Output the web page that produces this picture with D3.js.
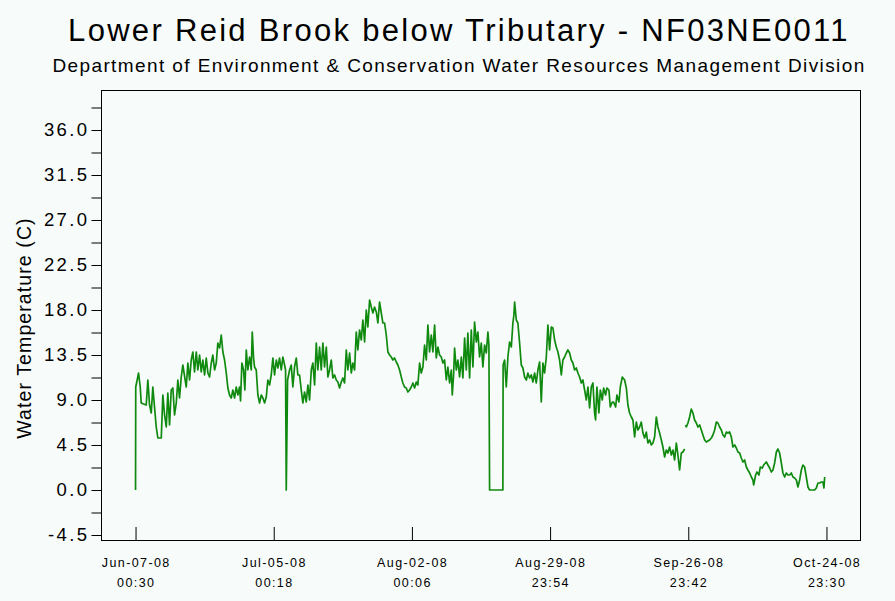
<!DOCTYPE html>
<html>
<head>
<meta charset="utf-8">
<script src="https://cdn.jsdelivr.net/npm/d3@7"></script>
<style>
  html, body { margin: 0; padding: 0; background: #f7fbf9; }
  svg { display: block; }
  text { font-family: "Liberation Sans", Arial, sans-serif; fill: #000; }
</style>
</head>
<body>
<svg id="chart" width="895" height="601"></svg>
<script>
// Station record: first and last logged readings
const firstReading = Date.UTC(2008, 5, 7, 0, 30);
const lastReading = Date.UTC(2008, 9, 24, 23, 30);

// Days elapsed since the first reading, and water temperature (C) at that time.
// A null temperature marks a break in the record.
const dayOffsets = [
  0, 0.04, 0.61, 0.95, 1.15, 1.62, 2.17, 2.49, 2.84, 3.18, 3.50, 4.19, 4.52, 5.21, 5.53, 5.88,
  6.22, 6.54, 6.89, 7.23, 7.56, 7.90, 8.25, 8.57, 8.91, 9.26, 9.58, 10.27, 10.60, 10.94, 11.28,
  11.61, 11.95, 12.30, 12.62, 12.97, 13.31, 13.63, 13.98, 14.32, 14.65, 14.99, 15.34, 15.66,
  16.01, 16.35, 16.67, 17.02, 17.36, 17.69, 18.03, 18.38, 18.70, 19.04, 19.39, 19.71, 20.06,
  20.40, 20.73, 21.07, 21.27, 21.54, 21.88, 22.14, 22.43, 22.75, 23.10, 23.44, 23.64, 23.91,
  24.11, 24.45, 24.78, 25.12, 25.47, 25.79, 26.14, 26.48, 26.80, 27.15, 27.49, 27.82, 28.16,
  28.51, 28.83, 29.17, 29.52, 29.84, 30.19, 30.39, 30.53, 30.80, 31.20, 31.54, 31.87, 32.21,
  32.56, 32.88, 33.23, 33.57, 33.89, 34.24, 34.58, 34.91, 35.25, 35.60, 35.92, 36.27, 36.61,
  36.93, 37.28, 37.62, 37.95, 38.29, 38.64, 38.96, 39.30, 39.65, 39.97, 40.32, 40.66, 40.99,
  41.33, 41.67, 42.00, 42.34, 42.69, 43.01, 43.36, 43.70, 44.02, 44.37, 44.71, 45.04, 45.38,
  45.73, 46.05, 46.40, 46.74, 47.06, 47.41, 47.75, 48.08, 48.42, 48.77, 49.09, 49.43, 49.78,
  50.10, 50.45, 50.79, 51.12, 51.46, 51.80, 52.13, 52.47, 52.82, 53.14, 53.49, 53.83, 54.15,
  54.50, 54.84, 55.17, 55.51, 55.86, 56.18, 56.53, 56.87, 57.19, 57.54, 57.88, 58.21, 58.55,
  58.90, 59.22, 59.56, 59.91, 60.23, 60.58, 60.92, 61.25, 61.59, 61.93, 62.26, 62.60, 62.95,
  63.27, 63.62, 63.96, 64.16, 64.43, 64.63, 64.97, 65.30, 65.64, 65.99, 66.31, 66.66, 67.00,
  67.32, 67.67, 68.01, 68.34, 68.68, 69.03, 69.35, 69.69, 70.04, 70.36, 70.71, 71.05, 71.38,
  71.58, 71.72, 74.41, 74.46, 74.76, 75.10, 75.43, 75.77, 76.12, 76.44, 76.64, 76.79, 77.13,
  77.45, 77.80, 78.14, 78.47, 78.81, 79.16, 79.48, 79.82, 80.17, 80.49, 80.84, 81.18, 81.51,
  81.85, 82.19, 82.52, 82.86, 83.21, 83.53, 83.88, 84.22, 84.55, 84.89, 85.23, 85.56, 85.90,
  86.25, 86.57, 86.92, 87.26, 87.58, 87.93, 88.27, 88.60, 88.94, 89.29, 89.61, 89.95, 90.30,
  90.62, 90.97, 91.31, 91.64, 91.98, 92.32, 92.65, 92.99, 93.19, 93.46, 93.86, 94.15, 94.55,
  94.82, 95.22, 95.49, 95.89, 96.17, 96.58, 96.84, 97.25, 97.51, 97.92, 98.20, 98.60, 99.07,
  99.42, 99.74, 100.08, 100.43, 100.75, 101.10, 101.44, 101.77, 102.11, 102.45, 102.78, 103.12,
  103.47, 103.79, 104.14, 104.48, 104.81, 105.15, 105.49, 105.82, 106.16, 106.51, 106.83,
  107.18, 107.52, 107.84, 108.19, 108.53, 108.86, 109.20, 109.55, 109.87, 110.21, 110.56,
  110.88, 111.23, 111.33, 111.43, 111.57, 111.90, 112.24, 112.58, 112.91, 113.25, 113.60,
  113.92, 114.27, 114.61, 114.94, 115.28, 115.62, 115.95, 116.29, 116.64, 116.96, 117.31,
  117.65, 117.97, 118.32, 118.66, 118.99, 119.33, 119.68, 120.00, 120.34, 120.69, 121.01,
  121.36, 121.70, 122.03, 122.37, 122.71, 123.04, 123.38, 123.73, 124.05, 124.40, 124.74,
  125.06, 125.21, 125.61, 125.88, 126.28, 126.56, 126.97, 127.23, 127.78, 128.10, 128.45,
  128.79, 129.12, 129.46, 129.81, 130.13, 130.47, 130.82, 131.14, 131.49, 131.83, 132.16,
  132.50, 132.84, 133.17, 133.51, 133.86, 134.18, 134.53, 134.87, 135.19, 135.54, 135.88,
  136.21, 136.55, 136.90, 137.57, 137.91, 138.23, 138.58, 138.92, 139.25, 139.45, 139.60
];

const temperatures = [
  0.0, 10.3, 11.7, 10.3, 8.7, 8.6, 8.5, 11.0, 8.5, 7.7, 10.3, 6.3, 5.2, 5.2, 9.5, 7.5,
  6.3, 9.7, 6.5, 10.0, 10.2, 7.5, 8.7, 11.0, 9.2, 11.3, 12.5, 10.3, 12.7, 11.0, 13.0,
  13.8, 11.8, 13.8, 12.0, 13.5, 11.8, 13.0, 11.5, 13.2, 11.7, 11.3, 12.7, 13.5,
  12.0, 12.7, 14.7, 14.2, 15.5, 13.8, 13.0, 11.7, 10.2, 9.5, 9.2, 10.0, 9.2,
  10.3, 9.5, 10.3, 8.9, 12.7, 12.0, 10.0, 14.0, 12.0, 13.3, 12.0, 15.8, 13.2,
  12.3, 12.0, 9.5, 8.7, 9.5, 9.2, 8.7, 9.3, 11.0, 10.5, 11.5, 13.2, 11.5,
  13.0, 12.2, 13.2, 12.0, 13.3, 12.5, 12.0, 0.0, 11.0, 12.0, 12.5, 10.3, 12.3,
  13.2, 11.5, 11.5, 10.0, 8.7, 9.8, 8.8, 10.5, 9.0, 12.0, 12.7, 10.5, 14.7,
  12.0, 14.3, 12.0, 14.7, 12.3, 14.3, 11.3, 12.0, 13.0, 11.2, 11.5, 11.0, 10.8,
  10.2, 10.8, 11.2, 10.7, 14.0, 12.0, 13.7, 11.7, 12.7, 12.0, 15.8, 14.0, 16.0,
  15.0, 17.0, 14.8, 18.0, 16.3, 19.0, 18.3, 17.7, 18.3, 17.8, 16.7, 18.8, 17.7,
  16.7, 16.7, 15.5, 13.8, 13.5, 13.3, 13.0, 13.2, 12.8, 12.5, 12.0, 11.3, 10.7,
  10.3, 10.2, 9.8, 10.0, 10.3, 10.7, 10.2, 10.8, 10.5, 12.7, 11.7, 12.3, 14.5,
  13.0, 16.5, 13.8, 15.5, 13.8, 16.5, 13.2, 14.3, 13.5, 13.3, 12.7, 13.0, 11.0,
  12.3, 10.7, 12.0, 9.5, 11.5, 14.2, 12.0, 13.0, 11.3, 13.3, 11.2, 15.2, 12.0,
  15.7, 11.2, 16.0, 12.3, 16.8, 14.8, 15.8, 13.3, 14.7, 12.3, 14.5, 13.7, 15.8,
  14.5, 0.0, 0.0, 12.5, 13.0, 10.3, 13.3, 14.8, 14.3, 16.7, 17.5, 18.8, 17.0,
  16.7, 14.7, 12.5, 12.2, 11.3, 11.0, 11.7, 11.2, 11.5, 10.8, 11.7, 10.7, 12.0,
  12.8, 8.8, 12.7, 11.7, 13.3, 16.5, 14.0, 16.3, 16.2, 15.0, 14.3, 13.8, 13.0,
  11.5, 13.0, 13.3, 13.7, 14.0, 13.7, 13.0, 12.7, 12.0, 12.2, 11.7, 11.3, 10.7,
  11.0, 10.0, 9.0, 10.3, 8.2, 10.3, 10.7, 7.7, 7.0, 10.3, 7.7, 10.0, 9.0,
  10.2, 9.5, 10.2, 10.0, 8.3, 8.8, 8.8, 8.3, 9.5, 8.8, 10.3, 11.3, 11.0,
  10.2, 8.5, 7.7, 7.3, 7.0, 5.3, 6.8, 6.0, 6.3, 6.8, 5.7, 5.2,
  5.8, 4.7, 5.0, 4.5, 4.7, 5.3, 7.3, 6.3, 5.7, 5.0, 4.3,
  3.3, 4.0, 3.7, 4.3, 3.5, 4.0, 3.0, 4.7, 3.5, 2.0, 3.7,
  3.8, 4.1, null, 6.5, 6.3, 6.7, 7.3, 8.1, 7.7, 7.0, 6.7,
  6.3, 6.5, 6.0, 5.5, 5.0, 4.8, 4.9, 5.0, 5.2, 5.5, 6.0,
  6.8, 6.7, 6.3, 6.0, 5.5, 5.3, 5.8, 5.7, 5.8, 5.3, 4.3,
  4.5, 4.2, 3.8, 3.7, 3.2, 2.8, 3.0, 2.3, 2.0, 1.7, 1.3,
  1.0, 0.5, 1.5, 1.8, 1.5, 2.3, 2.2, 2.5, 2.8, 2.5, 2.2,
  1.8, 2.0, 2.7, 3.8, 4.1, 3.7, 2.7, 1.7, 1.3, 1.7, 1.5,
  1.5, 1.7, 1.3, 1.2, 1.0, 0.3, 1.0, 2.0, 2.5, 2.3, 1.3,
  0.3, 0.0, 0.0, 0.0, 0.2, 0.7, 0.7, 0.8, 0.8, 0.2, 1.3
];

// Axis tick values
const yMajorTicks = [-4.5, 0.0, 4.5, 9.0, 13.5, 18.0, 22.5, 27.0, 31.5, 36.0];
const yMinorTicks = [-2.25, 2.25, 6.75, 11.25, 15.75, 20.25, 24.75, 29.25, 33.75, 38.25];
const xTickCount = 6;

const titleText = "Lower Reid Brook below Tributary - NF03NE0011";
const subtitleText = "Department of Environment & Conservation Water Resources Management Division";
const yLabelText = "Water Temperature (C)";

const DAY = 86400000;
const readings = dayOffsets.map((d, i) => ({
  t: new Date(firstReading + d * DAY),
  v: temperatures[i]
}));

const svg = d3.select("#chart");
const plot = { left: 101, right: 861, top: 90, bottom: 540 };

const span = lastReading - firstReading;
const x = d3.scaleUtc()
  .domain([new Date(firstReading - 0.05 * span), new Date(lastReading + 0.05 * span)])
  .range([plot.left, plot.right]);
const y = d3.scaleLinear()
  .domain([-5, 40])
  .range([plot.bottom, plot.top]);

// Titles
svg.append("text")
  .attr("x", 459).attr("y", 41)
  .attr("text-anchor", "middle")
  .style("font-size", "31px")
  .attr("letter-spacing", "2.3px")
  .text(titleText);
svg.append("text")
  .attr("x", 459).attr("y", 72)
  .attr("text-anchor", "middle")
  .style("font-size", "19px")
  .attr("letter-spacing", "1.4px")
  .text(subtitleText);

// Plot frame
svg.append("rect")
  .attr("x", plot.left + 0.5).attr("y", plot.top + 0.5)
  .attr("width", plot.right - plot.left - 1)
  .attr("height", plot.bottom - plot.top)
  .attr("fill", "none")
  .attr("stroke", "#000")
  .attr("stroke-width", 1);

// Y axis: labelled major ticks and unlabelled minor ticks
const yAxisG = svg.append("g")
  .attr("transform", `translate(${plot.left + 0.5},0)`)
  .call(d3.axisLeft(y).tickValues(yMajorTicks).tickSize(10).tickPadding(2)
    .tickFormat(d => d.toFixed(1)));
yAxisG.select(".domain").remove();
yAxisG.selectAll("text")
  .style("font-size", "18.5px")
  .style("font-family", "'Liberation Sans', Arial, sans-serif")
  .attr("fill", "#000")
  .attr("letter-spacing", "2.4px");
yAxisG.selectAll("line").attr("stroke", "#000");

const yMinorG = svg.append("g")
  .attr("transform", `translate(${plot.left + 0.5},0)`)
  .call(d3.axisLeft(y).tickValues(yMinorTicks).tickSize(10).tickFormat(""));
yMinorG.select(".domain").remove();
yMinorG.selectAll("line").attr("stroke", "#000");

// X axis: evenly spaced ticks across the record, pointing into the plot
const xTicks = d3.range(xTickCount).map(i =>
  new Date(firstReading + (i * span) / (xTickCount - 1)));
const fmtDate = d3.utcFormat("%b-%d-%y");
const fmtTime = d3.utcFormat("%H:%M");
const xAxisG = svg.append("g")
  .attr("transform", `translate(0,${plot.bottom})`)
  .call(d3.axisBottom(x).tickValues(xTicks).tickSize(-13).tickFormat(""));
xAxisG.select(".domain").remove();
xAxisG.selectAll("line").attr("stroke", "#000");

const xLabels = svg.append("g")
  .selectAll("text")
  .data(xTicks)
  .join("text")
  .attr("x", d => x(d))
  .attr("y", 567)
  .attr("text-anchor", "middle")
  .style("font-size", "12.5px")
  .attr("letter-spacing", "1.4px");
xLabels.append("tspan").attr("x", d => x(d) + 0.7).attr("dy", 0).text(d => fmtDate(d));
xLabels.append("tspan").attr("x", d => x(d) + 0.7).attr("dy", 20).text(d => fmtTime(d));

// Y axis title
svg.append("text")
  .attr("transform", `translate(31,${(plot.top + plot.bottom) / 2 + 13}) rotate(-90)`)
  .attr("text-anchor", "middle")
  .style("font-size", "19.5px")
  .attr("letter-spacing", "1.1px")
  .text(yLabelText);

// Temperature trace
const line = d3.line()
  .defined(d => d.v !== null)
  .x(d => x(d.t))
  .y(d => y(d.v));
svg.append("path")
  .datum(readings)
  .attr("d", line)
  .attr("fill", "none")
  .attr("stroke", "#0f8a0f")
  .attr("stroke-width", 1.7)
  .attr("stroke-linejoin", "round");
</script>
</body>
</html>
